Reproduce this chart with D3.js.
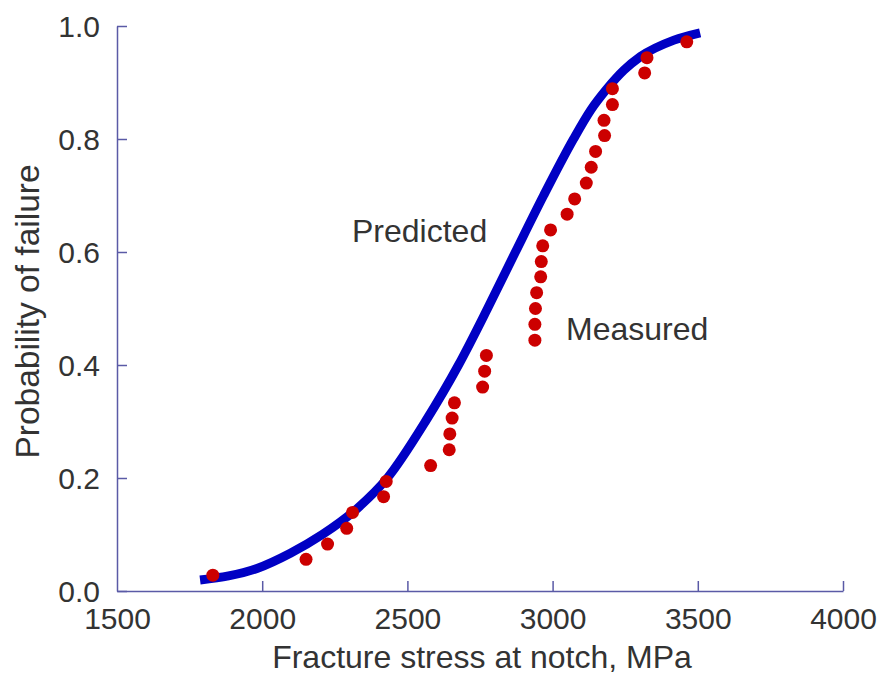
<!DOCTYPE html>
<html>
<head>
<meta charset="utf-8">
<script src="https://cdn.jsdelivr.net/npm/d3@7"></script>
<style>
  html, body { margin: 0; padding: 0; background: #fff; }
  svg { display: block; }
  text { font-family: "Liberation Sans", Arial, Helvetica, sans-serif; fill: #333; }
</style>
</head>
<body>
<svg id="chart" width="882" height="675"></svg>
<script>
// ---- Data ----
const xTicks = [1500, 2000, 2500, 3000, 3500, 4000];
const yTicks = [0.0, 0.2, 0.4, 0.6, 0.8, 1.0];

// Predicted curve (stress, probability)
const predictedStress = [1786, 1982, 2097, 2207, 2327, 2431, 2562, 2676, 2776, 2872, 2969, 3072, 3131, 3189, 3246, 3303, 3418, 3508];
const predictedProb   = [0.0195, 0.040, 0.067, 0.100, 0.146, 0.200, 0.300, 0.400, 0.500, 0.600, 0.700, 0.800, 0.851, 0.890, 0.922, 0.946, 0.975, 0.988];

// Measured points (stress, probability)
const measuredStress = [1830, 2151, 2225, 2291, 2311, 2418, 2427, 2580, 2644, 2646, 2654, 2662, 2759, 2766, 2772, 2939, 2939, 2941, 2945, 2959, 2961, 2966, 2993, 3050, 3076, 3116, 3133, 3148, 3179, 3177, 3206, 3206, 3317, 3325, 3462];
const measuredProb   = [0.028, 0.056, 0.083, 0.111, 0.139, 0.167, 0.194, 0.222, 0.250, 0.278, 0.306, 0.333, 0.361, 0.389, 0.417, 0.444, 0.472, 0.500, 0.528, 0.556, 0.583, 0.611, 0.639, 0.667, 0.694, 0.722, 0.750, 0.778, 0.806, 0.833, 0.861, 0.889, 0.917, 0.944, 0.972];

const xTitle = "Fracture stress at notch, MPa";
const yTitle = "Probability of failure";
const seriesLabels = ["Predicted", "Measured"];

// ---- Drawing ----
const svg = d3.select("#chart");
const axisColor = "#5a5aa6";

const x = d3.scaleLinear().domain([1500, 4000]).range([117, 843]);
const y = d3.scaleLinear().domain([0, 1]).range([591, 26]);

// Y axis
const yAxis = svg.append("g")
  .attr("transform", `translate(${x(1500)},0)`)
  .call(d3.axisLeft(y).tickValues(yTicks).tickFormat(d3.format(".1f"))
        .tickSizeInner(-10).tickSizeOuter(0).tickPadding(17));
yAxis.selectAll("path, line").attr("stroke", axisColor).attr("stroke-width", 1.5);
yAxis.selectAll("text").style("font-size", "30px").attr("dy", "0.36em").style("fill", "#333");

// X axis
const xAxis = svg.append("g")
  .attr("transform", `translate(0,${y(0)})`)
  .call(d3.axisBottom(x).tickValues(xTicks).tickFormat(d3.format("d"))
        .tickSizeInner(-10).tickSizeOuter(0).tickPadding(17));
xAxis.selectAll("path, line").attr("stroke", axisColor).attr("stroke-width", 1.5);
xAxis.selectAll(".tick").filter(d => d === 1500).select("line").remove();
xAxis.selectAll("text").style("font-size", "30px").attr("dy", "0.71em").style("fill", "#333");

// Titles
svg.append("text")
  .attr("x", (x(1500) + x(4000)) / 2 + 2)
  .attr("y", 668)
  .attr("text-anchor", "middle")
  .style("font-size", "32px")
  .text(xTitle);

svg.append("text")
  .attr("transform", `translate(39,${(y(0) + y(1)) / 2 + 3}) rotate(-90)`)
  .attr("text-anchor", "middle")
  .style("font-size", "33.5px")
  .text(yTitle);

// Predicted line
const predicted = predictedStress.map((s, i) => [s, predictedProb[i]]);
svg.append("path")
  .datum(predicted)
  .attr("fill", "none")
  .attr("stroke", "#0000c4")
  .attr("stroke-width", 9)
  .attr("stroke-linecap", "butt")
  .attr("d", d3.line().x(d => x(d[0])).y(d => y(d[1])).curve(d3.curveMonotoneX));

// Measured points
const measured = measuredStress.map((s, i) => [s, measuredProb[i]]);
svg.append("g").selectAll("circle")
  .data(measured)
  .join("circle")
  .attr("cx", d => x(d[0]))
  .attr("cy", d => y(d[1]))
  .attr("r", 6.5)
  .attr("fill", "#cc0000");

// Series labels
svg.append("text").attr("x", 352).attr("y", 242).style("font-size", "32px").text(seriesLabels[0]);
svg.append("text").attr("x", 566).attr("y", 340).style("font-size", "32px").text(seriesLabels[1]);
</script>
</body>
</html>
